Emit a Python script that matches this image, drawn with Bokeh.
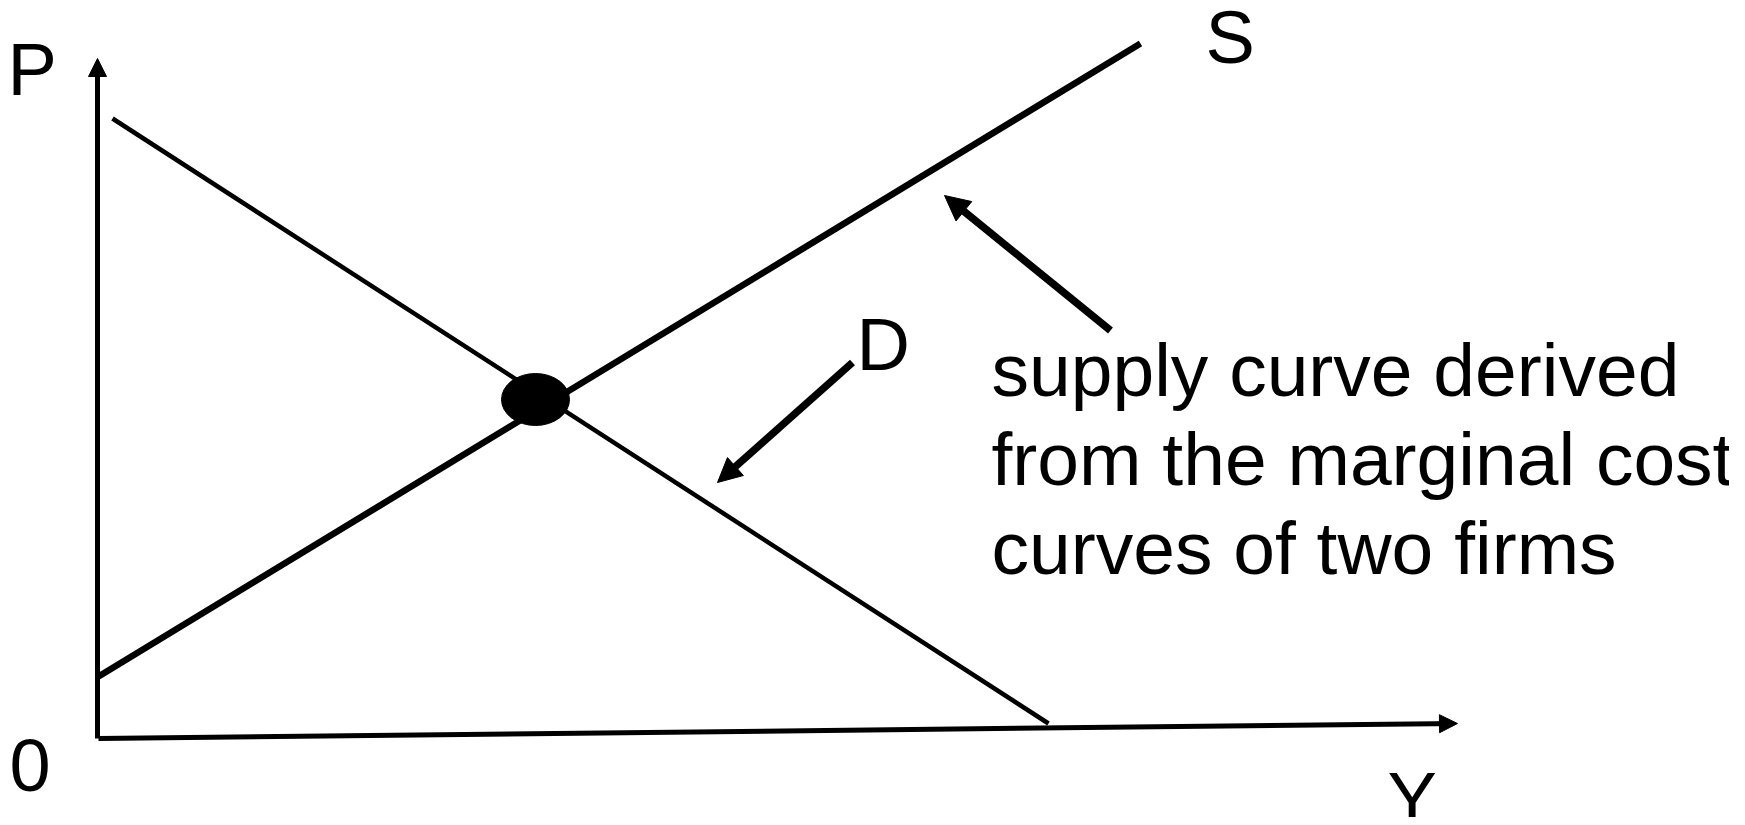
from bokeh.plotting import figure
from bokeh.models import Range1d, Arrow, NormalHead
from bokeh.core.properties import value
from bokeh.embed import file_html
from bokeh.resources import INLINE

# ---- data (quantity Y on x, price P on y; origin at the axes corner) ----
p_axis_q = [0, 0]
p_axis_p = [0, 680]
y_axis_q = [1, 1360]
y_axis_p = [0, 15]

demand_q = [15, 951]
demand_p = [620, 15]

supply_q = [1, 1043]
supply_p = [62, 695]

equilibrium_q = [438]
equilibrium_p = [339]

supply_note_arrow = [1013, 408, 847, 543]   # start q, start p, end q, end p
demand_note_arrow = [755, 376, 620, 256]

label_text = ["P", "0", "S", "D", "Y"]
label_q = [-90, -88, 1108, 759, 1290]
label_p = [669, -27, 701, 394, -60]

note_lines = ["supply curve derived", "from the marginal cost", "curves of two firms"]
note_q = [894, 894, 894]
note_p = [369, 280, 191]

W, H = 1729, 817
X0, Y0 = -97, 738   # data value at the figure's left edge / top edge
p = figure(width=W, height=H, output_backend="svg", toolbar_location=None,
           x_range=Range1d(X0, X0 + W), y_range=Range1d(Y0 - H, Y0),
           x_axis_location=None, y_axis_location=None, min_border=0,
           background_fill_color="white", border_fill_color="white")
p.outline_line_color = None
p.xgrid.visible = False
p.ygrid.visible = False

FONT = value("Liberation Sans")

# axes with arrow heads
for qs, ps in ((p_axis_q, p_axis_p), (y_axis_q, y_axis_p)):
    p.add_layout(Arrow(end=NormalHead(size=18, fill_color="black", line_color="black", line_width=1),
                       x_start=qs[0], y_start=ps[0], x_end=qs[1], y_end=ps[1],
                       line_width=5, line_color="black"))

# demand and supply
p.line(demand_q, demand_p, line_width=4.5, line_color="black", line_cap="butt")
p.line(supply_q, supply_p, line_width=6.5, line_color="black", line_cap="butt")

# equilibrium dot
p.ellipse(equilibrium_q, equilibrium_p, width=68, height=52, fill_color="black", line_color="black")

# annotation arrows
for a, sz in ((supply_note_arrow, 25), (demand_note_arrow, 24)):
    p.add_layout(Arrow(end=NormalHead(size=sz, fill_color="black", line_color="black", line_width=1),
                       x_start=a[0], y_start=a[1], x_end=a[2], y_end=a[3],
                       line_width=7.5, line_color="black"))

# labels
p.text(label_q, label_p, text=label_text, text_font=FONT, text_font_size="74px",
       text_color="black", text_align="left", text_baseline="alphabetic")
p.text(note_q, note_p, text=note_lines, text_font=FONT, text_font_size="75px",
       text_color="black", text_align="left", text_baseline="alphabetic")

open("out.html", "w").write(file_html(p, INLINE))
